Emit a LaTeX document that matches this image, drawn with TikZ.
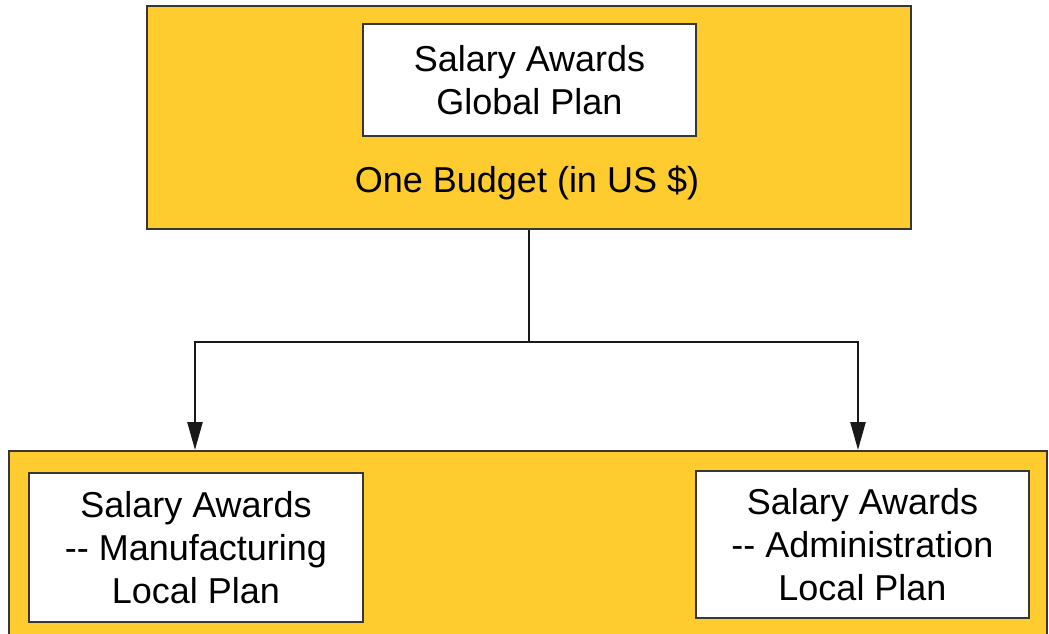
\documentclass[tikz,border=0pt]{standalone}
\usepackage{fontspec}
\setmainfont{Liberation Sans}
\usetikzlibrary{arrows.meta}
\definecolor{gold}{RGB}{254,204,46}
\definecolor{edge}{RGB}{55,55,55}
\begin{document}
\begin{tikzpicture}[x=1pt,y=-1pt,
  panel/.style={draw=edge, line width=2pt, fill=gold, inner sep=0pt, anchor=north west},
  card/.style={draw=edge, line width=2pt, fill=white, align=center, inner sep=0pt, anchor=north west,
    font=\fontsize{36}{43}\selectfont},
  caption/.style={font=\fontsize{36}{43}\selectfont, inner sep=0pt},
  link/.style={draw=black!90, line width=2.5pt},
  tip/.style={-{Triangle[width=15pt,length=28pt]}}
]
\useasboundingbox (0,0) rectangle (1049,634);
\clip (0,0) rectangle (1049,634);
\node[panel, minimum width=764pt, minimum height=223pt] (top) at (146,5) {};
\node[panel, minimum width=1038pt, minimum height=200pt] (bottom) at (8,450) {};
\node[card, minimum width=333pt, minimum height=112pt] (global) at (362,23) {Salary Awards\\Global Plan};
\node[caption] (budget) at (527,183) {One Budget (in US \$)};
\node[card, minimum width=334pt, minimum height=149pt] (mfg) at (28,472) {Salary Awards\\-{}- Manufacturing\\Local Plan};
\node[card, minimum width=333pt, minimum height=147pt] (adm) at (695,470) {Salary Awards\\-{}- Administration\\Local Plan};
\path (top.south) ++(0,112) coordinate (jn);
\draw[link] (top.south) -- (jn);
\draw[link, tip] (jn) -| (195,450);
\draw[link, tip] (jn) -| (858,450);
\end{tikzpicture}
\end{document}
